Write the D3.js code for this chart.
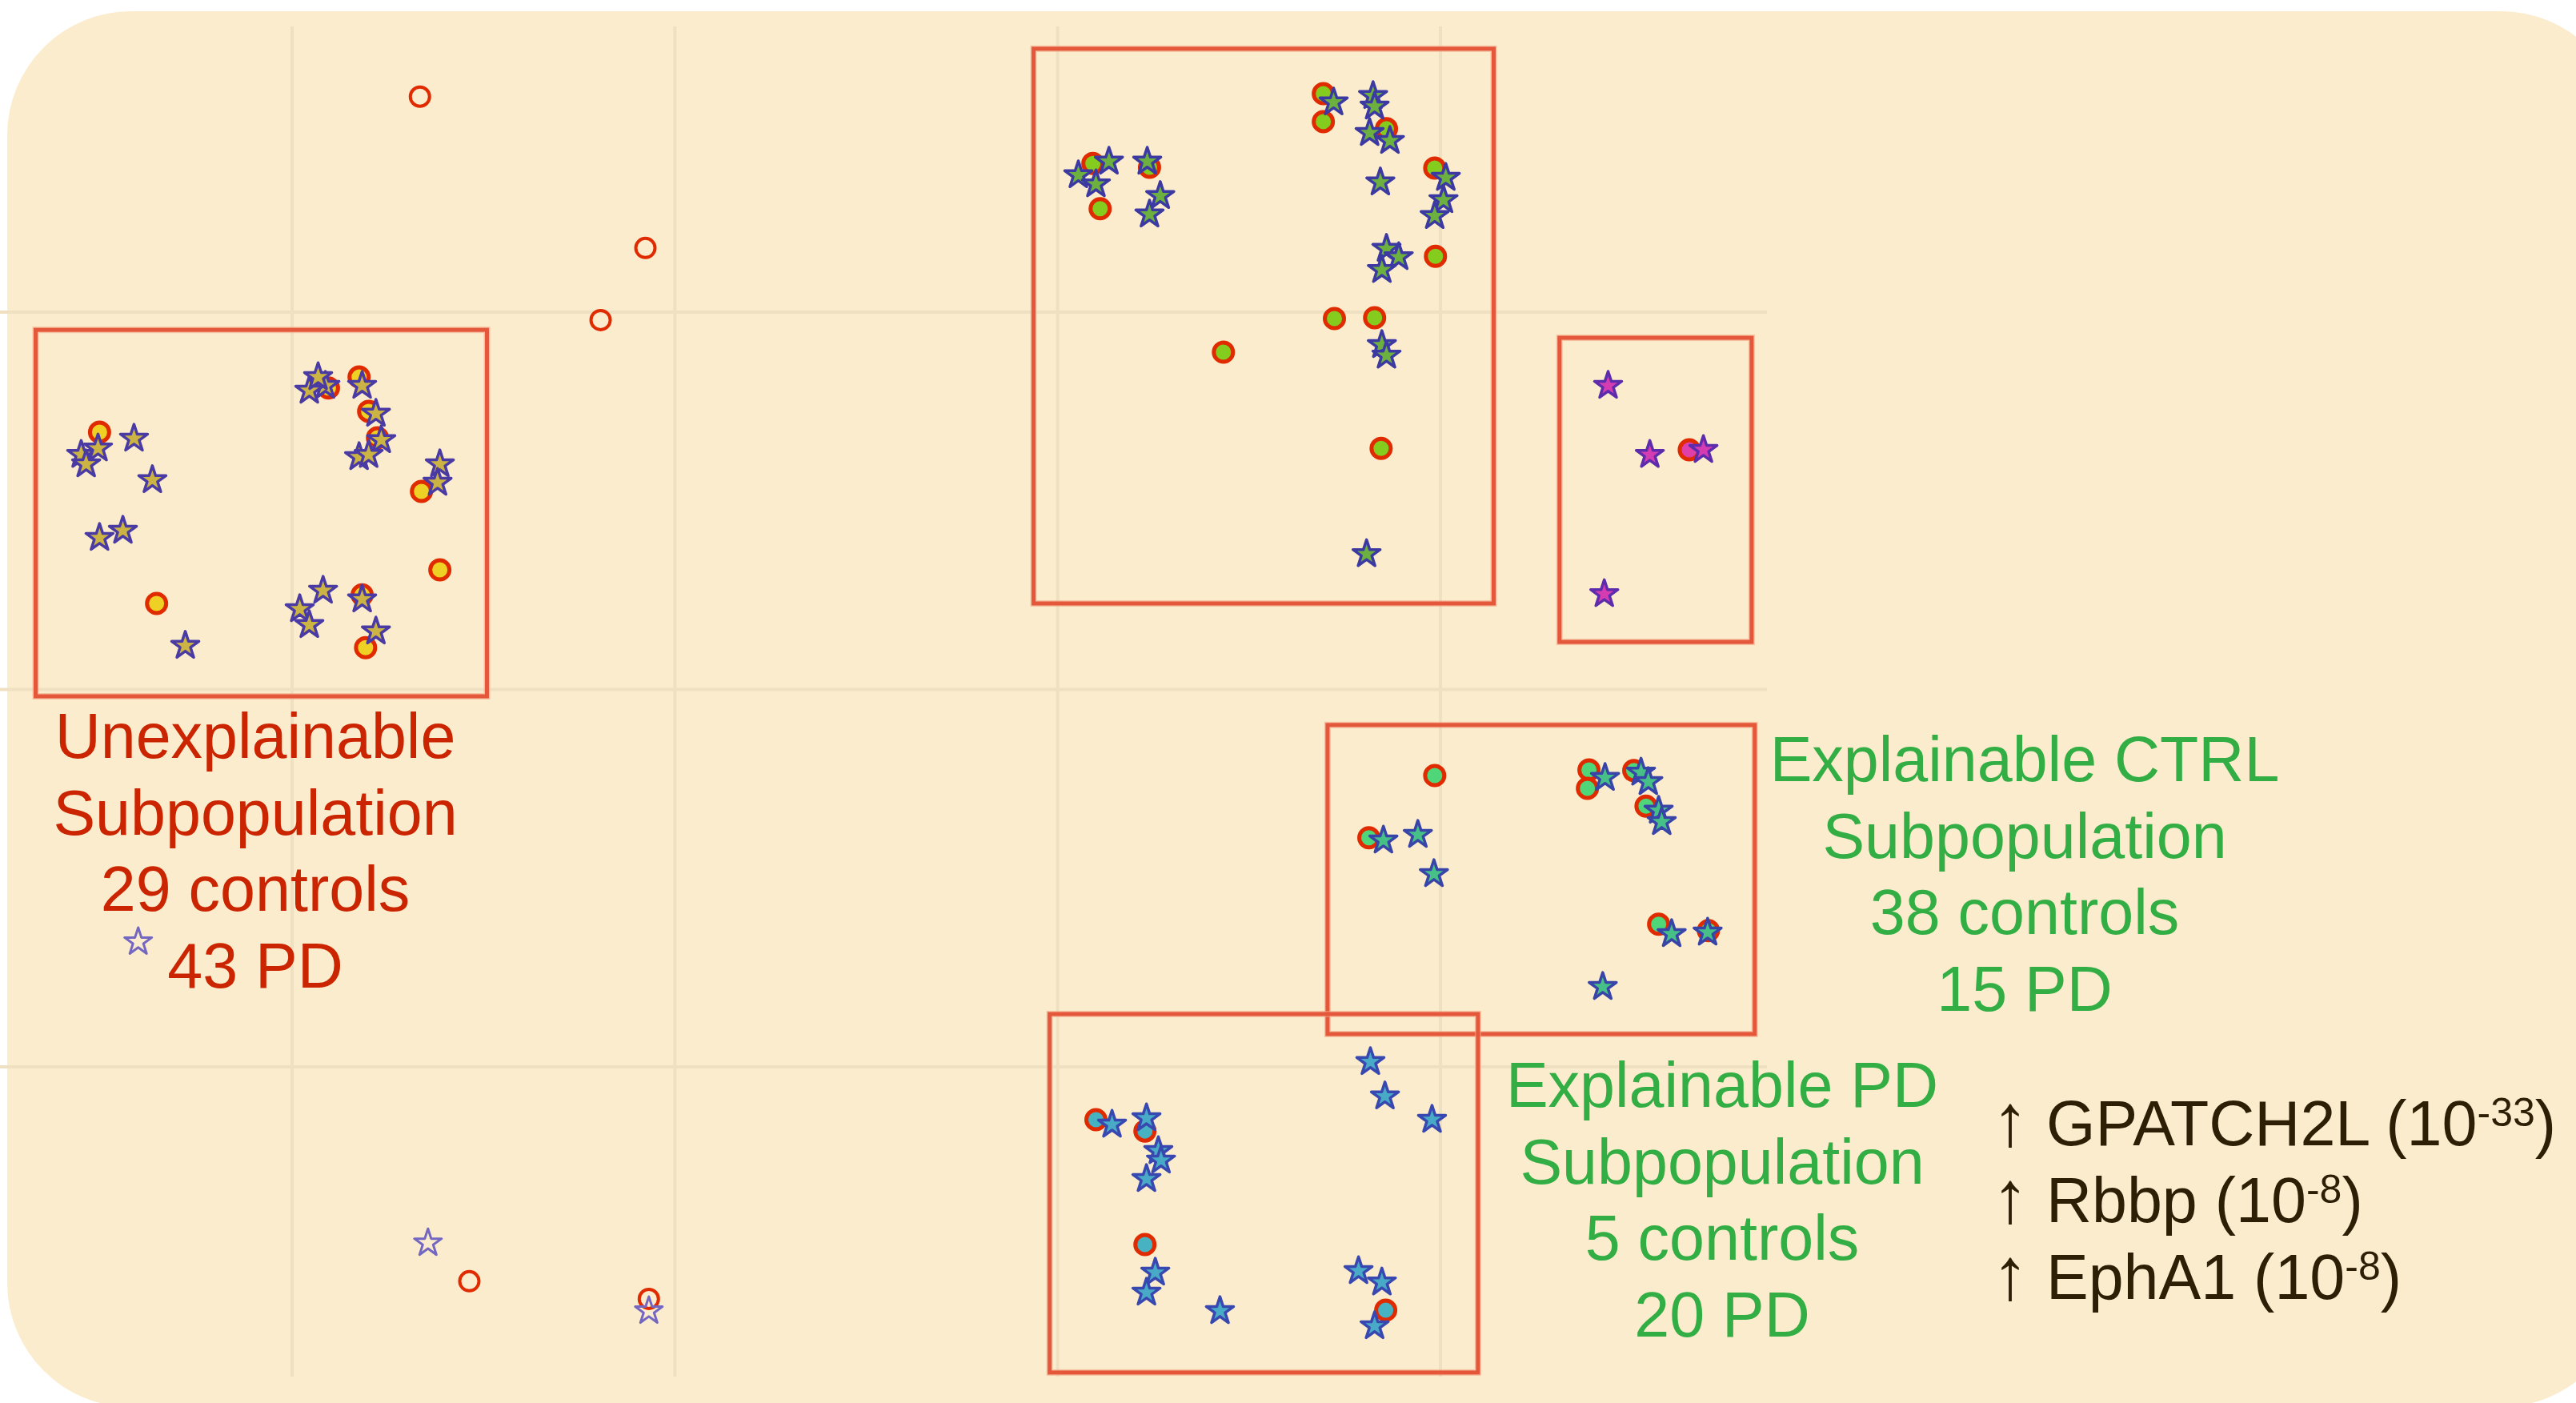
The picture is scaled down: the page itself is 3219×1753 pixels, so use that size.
<!DOCTYPE html>
<html>
<head>
<meta charset="utf-8">
<script src="https://cdn.jsdelivr.net/npm/d3@7"></script>
<style>
  html, body { margin: 0; padding: 0; background: #ffffff; }
  svg { display: block; }
</style>
</head>
<body>
<div id="chart"></div>
<script>
// embedding coordinates (grid every 10 units)
var xTicks = [-20, -10, 0, 10]
var yTicks = [10, 0, -10]

// points outside every box (drawn hollow)
var outlierCtrl = [[-16.66, 15.71], [-10.77, 11.70], [-11.94, 9.79], [-15.37, -15.68], [-10.68, -16.15]]
var outlierPD = [[-16.45, -14.67], [-10.68, -16.47], [-24.02, -6.69]]

// unexplainable subpopulation
var unexplCtrl = [[-19.05, 7.99], [-18.25, 8.28], [-18.00, 7.37], [-17.77, 6.67], [-16.62, 5.25],
    [-16.14, 3.17], [-25.03, 6.82], [-23.54, 2.28], [-18.17, 2.51], [-18.08, 1.11]]
var unexplPD = [[-19.13, 8.05], [-19.55, 7.92], [-19.32, 8.28], [-18.17, 8.05], [-17.81, 7.31],
    [-17.67, 6.61], [-18.25, 6.16], [-18.00, 6.22], [-16.14, 5.97], [-16.20, 5.48],
    [-25.51, 6.22], [-25.07, 6.39], [-25.38, 5.97], [-24.13, 6.65], [-23.65, 5.55],
    [-25.03, 4.02], [-24.42, 4.21], [-22.79, 1.16], [-19.19, 2.62], [-19.80, 2.13],
    [-19.55, 1.71], [-18.17, 2.39], [-17.81, 1.54]]

// upper middle cluster
var upperCtrl = [[0.92, 13.94], [2.40, 13.84], [1.11, 12.74], [6.94, 15.79], [6.94, 15.05],
    [8.59, 14.86], [9.85, 13.82], [9.87, 11.48], [7.23, 9.83], [8.28, 9.85],
    [4.33, 8.94], [8.45, 6.39]]
var upperPD = [[1.34, 13.99], [0.54, 13.63], [1.00, 13.39], [2.34, 13.99], [2.68, 13.08],
    [2.40, 12.59], [7.21, 15.56], [8.24, 15.73], [8.28, 15.45], [8.15, 14.75],
    [8.68, 14.54], [8.43, 13.44], [10.14, 13.56], [10.08, 12.97], [9.85, 12.55],
    [8.59, 11.68], [8.91, 11.46], [8.47, 11.12], [8.47, 9.13], [8.59, 8.85], [8.07, 3.59]]

// small magenta cluster
var magentaCtrl = [[16.50, 6.35]]
var magentaPD = [[14.38, 8.05], [15.47, 6.22], [16.87, 6.35], [14.28, 2.53]]

// explainable CTRL subpopulation
var ctrlSubCtrl = [[9.85, -2.28], [13.88, -2.13], [13.84, -2.62], [15.05, -2.15], [15.37, -3.09],
    [8.13, -3.93], [15.70, -6.22], [17.00, -6.39]]
var ctrlSubPD = [[14.30, -2.34], [15.24, -2.20], [15.43, -2.45], [15.70, -3.21], [15.78, -3.51],
    [8.51, -4.00], [9.41, -3.85], [9.83, -4.89], [16.04, -6.48], [16.98, -6.44], [14.24, -7.88]]

// explainable PD subpopulation
var pdSubCtrl = [[1.00, -11.40], [2.28, -11.70], [2.28, -14.71], [8.57, -16.45]]
var pdSubPD = [[1.42, -11.53], [2.32, -11.36], [2.63, -12.23], [2.70, -12.48], [2.32, -12.97],
    [2.55, -15.45], [2.32, -15.98], [4.24, -16.47], [8.17, -9.87], [8.55, -10.78],
    [9.78, -11.40], [7.86, -15.41], [8.47, -15.71], [8.28, -16.87]]

// selection boxes [x0, yTop, x1, yBottom]
var boxExtents = [[-26.70, 9.53, -14.91, -0.18], [-0.63, 16.98, 11.39, 2.28],
    [13.11, 9.32, 18.13, 1.26], [7.05, -0.94, 18.21, -9.13], [-0.21, -8.60, 10.98, -18.10]]

var unexplLabel = ["Unexplainable", "Subpopulation", "29 controls", "43 PD"]
var ctrlLabel = ["Explainable CTRL", "Subpopulation", "38 controls", "15 PD"]
var pdLabel = ["Explainable PD", "Subpopulation", "5 controls", "20 PD"]
var geneNames = ["GPATCH2L", "Rbbp", "EphA1"]
var genePower = ["-33", "-8", "-8"]

// page size
var width = 3219
var height = 1753
var font = "'Liberation Sans', Arial, Helvetica, sans-serif"

var svg = d3.select("#chart")
    .append("svg")
        .attr("width", width)
        .attr("height", height)

// cream panel
svg.append("rect")
    .attr("x", 9)
    .attr("y", 14)
    .attr("width", 3271)
    .attr("height", 1744)
    .attr("rx", 155)
    .attr("ry", 155)
    .attr("fill", "#fbeccd")

var x = d3.scaleLinear().domain([-20, 10]).range([365, 1800])
var y = d3.scaleLinear().domain([10, -10]).range([390, 1333])

/*-------------------------------- grid ------------------------------*/
svg.append("g")
    .selectAll("line")
    .data(xTicks)
    .enter().append("line")
        .attr("x1", d => x(d)).attr("x2", d => x(d))
        .attr("y1", 33).attr("y2", 1720)
        .attr("stroke", "#efe0c2")
        .attr("stroke-width", 4)

svg.append("g")
    .selectAll("line")
    .data(yTicks)
    .enter().append("line")
        .attr("x1", 0).attr("x2", 2208)
        .attr("y1", d => y(d)).attr("y2", d => y(d))
        .attr("stroke", "#efe0c2")
        .attr("stroke-width", 4)

/*-------------------------------- boxes ------------------------------*/
var boxes = svg.append("g")
    .selectAll("g")
    .data(boxExtents)
    .enter().append("g")

// soft halo under each frame, then the frame itself
boxes.append("rect")
    .attr("x", d => x(d[0]))
    .attr("y", d => y(d[1]))
    .attr("width", d => x(d[2]) - x(d[0]))
    .attr("height", d => y(d[3]) - y(d[1]))
    .attr("fill", "none")
    .attr("stroke", "#f4a586")
    .attr("stroke-width", 8)
    .attr("opacity", 0.6)

boxes.append("rect")
    .attr("x", d => x(d[0]))
    .attr("y", d => y(d[1]))
    .attr("width", d => x(d[2]) - x(d[0]))
    .attr("height", d => y(d[3]) - y(d[1]))
    .attr("fill", "none")
    .attr("stroke", "#e4573a")
    .attr("stroke-width", 5)

/*-------------------------------- points ------------------------------*/
var groups = [
    {ctrl: outlierCtrl, pd: outlierPD, fill: "none", starStroke: "#7367c2", hollow: true},
    {ctrl: unexplCtrl, pd: unexplPD, fill: "#efd024", starFill: "#cbb444", starStroke: "#4a3aa4"},
    {ctrl: upperCtrl, pd: upperPD, fill: "#84cc1e", starFill: "#6cb040", starStroke: "#3c3aa2"},
    {ctrl: magentaCtrl, pd: magentaPD, fill: "#e03ea8", starFill: "#d63cb2", starStroke: "#5c2cac"},
    {ctrl: ctrlSubCtrl, pd: ctrlSubPD, fill: "#4fd678", starFill: "#46c086", starStroke: "#3844a8"},
    {ctrl: pdSubCtrl, pd: pdSubPD, fill: "#46b2c2", starFill: "#48aac6", starStroke: "#3848b0"}
]

var circle = d3.symbol().type(d3.symbolCircle).size(Math.PI * 12 * 12)
var star = d3.symbol().type(d3.symbolStar).size(360)

var pts = svg.append("g")

// controls first, stars sit on top
groups.forEach(function(g) {
    pts.selectAll(null)
        .data(g.ctrl)
        .enter().append("path")
            .attr("d", circle)
            .attr("transform", d => "translate(" + x(d[0]) + "," + y(d[1]) + ")")
            .attr("fill", g.hollow ? "none" : g.fill)
            .attr("stroke", "#e02a00")
            .attr("stroke-width", g.hollow ? 4 : 5)
})

groups.forEach(function(g) {
    pts.selectAll(null)
        .data(g.pd)
        .enter().append("path")
            .attr("d", star)
            .attr("transform", d => "translate(" + x(d[0]) + "," + y(d[1]) + ")")
            .attr("fill", g.hollow ? "none" : g.starFill)
            .attr("stroke", g.starStroke)
            .attr("stroke-width", g.hollow ? 3 : 3.5)
            .attr("stroke-linejoin", "round")
})

/*-------------------------------- labels ------------------------------*/
function add_label(lines, cx, top, color) {
    svg.append("g")
        .selectAll("text")
        .data(lines)
        .enter().append("text")
            .attr("x", cx)
            .attr("y", (d, i) => top + i * 95.7)
            .attr("text-anchor", "middle")
            .attr("font-family", font)
            .attr("font-size", 79)
            .attr("fill", color)
            .text(d => d)
}

add_label(unexplLabel, 319, 947, "#cb2400")
add_label(ctrlLabel, 2530, 976, "#32ae44")
add_label(pdLabel, 2152, 1383, "#32ae44")

var geneText = svg.append("g")
    .selectAll("text")
    .data(geneNames)
    .enter().append("text")
        .attr("x", 2489)
        .attr("y", (d, i) => 1431 + i * 96)
        .attr("font-family", font)
        .attr("font-size", 79)
        .attr("fill", "#2c1f06")

geneText.append("tspan")
    .attr("font-size", 92)
    .text("\u2191")
geneText.append("tspan").text(d => " " + d + " (10")
geneText.append("tspan")
    .attr("dy", -24)
    .attr("font-size", 50)
    .text((d, i) => genePower[i])
geneText.append("tspan")
    .attr("dy", 24)
    .text(")")
</script>
</body>
</html>
